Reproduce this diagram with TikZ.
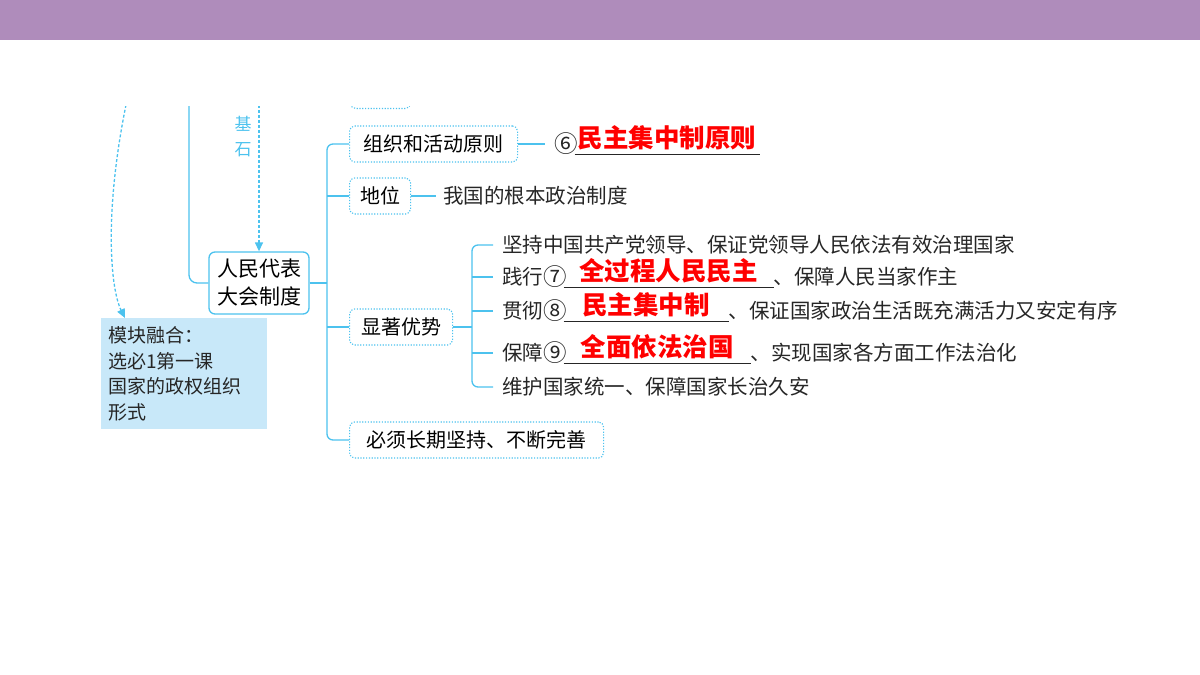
\documentclass[tikz,border=0pt]{standalone}
\usepackage{fontspec}
\setmainfont{Noto Sans CJK SC}
\usetikzlibrary{arrows.meta,positioning}
\definecolor{barpurple}{HTML}{AF8CBB}
\definecolor{linkblue}{HTML}{4CC2EE}
\definecolor{modfill}{HTML}{C8E8F9}
\definecolor{inkgray}{HTML}{262626}
\newcommand{\blank}[2]{\rlap{\rule[-3pt]{#1}{1pt}}\makebox[#1]{\raisebox{4pt}{\color{red}\bfseries\fontsize{25.5}{26}\selectfont #2}}}
\newcommand{\cnum}[1]{\makebox[20.5pt][l]{\raisebox{-0.5pt}{\fontsize{23.5}{24}\selectfont #1}}}

\begin{document}
\begin{tikzpicture}[x=1pt,y=-1pt,
        link/.style={linkblue,line width=1.3pt},
        dashlink/.style={linkblue,line width=1.3pt,dash pattern=on 3pt off 2pt},
        dotbox/.style={draw=linkblue,line width=1.1pt,dash pattern=on 1.2pt off 1.6pt,rounded corners=5pt,minimum height=36pt,inner sep=0pt,anchor=west,font=\fontsize{20}{24}\selectfont,text=black},
        mainbox/.style={draw=linkblue,line width=1.3pt,rounded corners=6pt,fill=white,minimum width=100pt,minimum height=62pt,align=left,inner sep=0pt,font=\fontsize{21}{28}\selectfont,text=black},
        item/.style={anchor=west,inner sep=0pt,outer xsep=9pt,text height=17pt,text depth=2pt,font=\fontsize{20.5}{24}\selectfont,text=inkgray}]
                \useasboundingbox (0,0) rectangle (1200,675);
                \fill [barpurple] (0,0) rectangle (1200,40);
                \begin{scope}
                \clip (0,106) rectangle (1200,675);
                \coordinate (curveTop) at (127,100);
                \coordinate (lineTop) at (189,100);
                \coordinate (baseTop) at (259,100);
                \coordinate (trunk) at (327,0);
                \coordinate (sub) at (472,0);
                \node [dotbox,minimum width=60pt,anchor=south west] (prev) at (350,109) {};
                \node [mainbox] (sys) at (259,283) {人民代表\\大会制度};
                \node [fill=modfill,anchor=north west,text width=152pt,minimum height=111pt,inner xsep=7pt,inner ysep=4pt,align=left,font=\fontsize{19}{25.5}\selectfont,text=inkgray] (mod) at (101,318) {模块融合：\\选必1第一课\\国家的政权组织\\形式};
                \node [text=linkblue,align=center,inner sep=0pt,font=\fontsize{17}{25}\selectfont] (base) at (243,137) {基\\石};
                \node [dotbox,minimum width=168pt] (rule) at (349,144) {组织和活动原则};
                \node [dotbox,minimum width=61pt] (pos) at (349,196) {地位};
                \node [dotbox,minimum width=103pt] (adv) at (349,327) {显著优势};
                \node [dotbox,minimum width=254pt] (must) at (349,440) {必须长期坚持、不断完善};
                \node [item] (rulev) at (545,144) {\cnum{⑥}\blank{185pt}{民主集中制原则}};
                \node [item,outer xsep=7pt] (posv) at (436,196) {我国的根本政治制度};
                \node [item] (adv1) at (493,245) {坚持中国共产党领导、保证党领导人民依法有效治理国家};
                \node [item] (adv2) at (493,277) {践行\cnum{⑦}\blank{210pt}{全过程人民民主}、保障人民当家作主};
                \node [item] (adv3) at (493,311) {贯彻\cnum{⑧}\blank{165pt}{民主集中制}、保证国家政治生活既充满活力又安定有序};
                \node [item] (adv4) at (493,353) {保障\cnum{⑨}\blank{187pt}{全面依法治国}、实现国家各方面工作法治化};
                \node [item] (adv5) at (493,387) {维护国家统一、保障国家长治久安};
                \draw [dashlink,-{Triangle[length=9pt,width=8pt]}] (curveTop) .. controls (104,210) and (110,288) .. ([xshift=24pt]mod.north west);
                \draw [link,rounded corners=8pt] (lineTop) |- (sys.west);
                \draw [dashlink,-{Triangle[length=9pt,width=8pt]}] (baseTop) -- (sys.north);
                \draw [link] (sys.east) -- (sys.east -| trunk);
                \draw [link,rounded corners=6pt] (rule.west) -- (rule.west -| trunk) -- (must.west -| trunk) -- (must.west);
                \draw [link] (pos.west) -- (pos.west -| trunk);
                \draw [link] (adv.west) -- (adv.west -| trunk);
                \draw [link] (rule.east) -- (rulev.west);
                \draw [link] (pos.east) -- (posv.west);
                \draw [link] (adv.east) -- (adv.east -| sub);
                \draw [link,rounded corners=6pt] (adv1.west) -- (adv1.west -| sub) -- (adv5.west -| sub) -- (adv5.west);
                \foreach \k in {2,3,4}
                    \draw [link] (adv\k.west) -- (adv\k.west -| sub);
                \end{scope}
\end{tikzpicture}
\end{document}
